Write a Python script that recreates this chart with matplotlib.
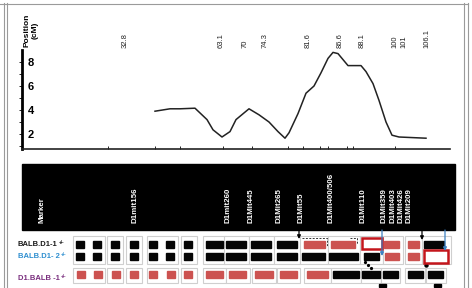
import matplotlib
matplotlib.use("Agg")
import matplotlib.pyplot as plt
from matplotlib.patches import Rectangle
import matplotlib.transforms as mtransforms

plt.rcParams['font.family'] = ['Liberation Sans', 'DejaVu Sans']

# ---------------- data ----------------
# LOD curve (x in track units along the map, y = LOD value)
track_x = [155, 170, 180, 195, 207, 213, 222, 230, 236, 249, 259, 269, 278, 285,
           289, 298, 306, 314, 321, 328, 333, 338, 343, 348, 361, 366, 373, 379,
           386, 392, 399, 426]
lod = [3.9, 4.1, 4.1, 4.15, 3.2, 2.35, 1.75, 2.2, 3.2, 4.1, 3.6, 3.0, 2.2, 1.65,
       2.1, 3.7, 5.4, 6.0, 7.1, 8.3, 8.8, 8.7, 8.2, 7.7, 7.7, 7.2, 6.2, 4.8,
       3.0, 1.9, 1.75, 1.65]
yticks = [2, 4, 6, 8]
cm_labels = ["32.8", "63.1", "70", "74.3", "81.6", "86.6", "88.1", "100", "101", "106.1"]
cm_pos = [125, 221, 245, 265, 308, 340, 362, 395, 404, 427]
axis_ticks = [108, 155, 180, 223, 252, 288, 303, 320, 328, 347, 353, 395]

markers = ["Marker", "D1mit156", "D1mit260", "D1Mit445", "D1Mit265", "D1Mit55",
           "D1Mit400/506", "D1Mit110", "D1Mit359", "D1Mit403", "D1Mit426", "D1Mit209"]
marker_pos = [42, 135, 228, 251, 279, 301, 331, 363, 384, 393, 401, 409]

strains = ["BALB.D1-1", "BALB.D1- 2", "D1.BALB -1"]
strain_sup = ["+/-", "+/-", "+/-"]
strain_colors = ["#1a1a1a", "#2f8fd0", "#7a2f7e"]

# genotype codes: B = BALB (black), D = donor (red), X = open/undetermined (red outline)
geno_row1 = ['B'] * 11 + ['D', 'D', 'X', 'D', 'D', 'B']
geno_row2 = ['B'] * 14 + ['D', 'D', 'X']
geno_row3 = ['D'] * 12 + ['B'] * 5

# ---------------- layout ----------------
W, H = 472, 288
fig = plt.figure(figsize=(W / 100, H / 100), dpi=100)
bg = fig.add_axes([0, 0, 1, 1])
bg.set_xlim(0, W)
bg.set_ylim(H, 0)
bg.axis('off')

# outer frame
for xv in (3.5, 7):
    bg.plot([xv, xv], [3, H], color="#9a9a9a", lw=0.8)
for xv in (464, 468):
    bg.plot([xv, xv], [3, H], color="#9a9a9a", lw=0.8)
bg.plot([0, 468], [3.5, 3.5], color="#9a9a9a", lw=0.8)

# ---- LOD plot ----
ax_l, ax_r, ax_t, ax_b = 22, 450, 50, 149
ax = fig.add_axes([ax_l / W, 1 - ax_b / H, (ax_r - ax_l) / W, (ax_b - ax_t) / H])
ax.patch.set_alpha(0)
ax.plot(track_x, lod, color="#222222", lw=1.1)
ax.set_xlim(ax_l, ax_r)
ax.set_ylim(0.75, 9.0)
for s in ("top", "right"):
    ax.spines[s].set_visible(False)
ax.spines['left'].set_linewidth(2.0)
ax.spines['bottom'].set_linewidth(1.2)
ax.spines['bottom'].set_color("#222222")
ax.set_yticks(yticks)
ax.set_yticklabels([str(v) for v in yticks], fontsize=8, fontweight='bold')
ax.set_yticks([1, 3, 5, 7], minor=True)
ax.tick_params(axis='y', which='both', direction='out', length=2, width=0.6, pad=-6)
for lbl in ax.get_yticklabels():
    lbl.set_horizontalalignment('left')
ax.set_xticks(axis_ticks)
ax.set_xticklabels([])
ax.tick_params(axis='x', direction='in', length=2, width=0.6)

trans = mtransforms.blended_transform_factory(ax.transData, ax.transAxes)
for lab, xp in zip(cm_labels, cm_pos):
    ax.text(xp, 1.02, lab, transform=trans, rotation=90, ha='center', va='bottom',
            fontsize=5.5, color="#222222", clip_on=False)

fig.text(31 / W, 1 - 30 / H, "Position\n(cM)", rotation=90, ha='center', va='center',
         fontsize=6, fontweight='bold', multialignment='center')

# ---- marker header ----
bg.add_patch(Rectangle((22, 164), 433, 66, color="black"))
for lab, xp in zip(markers, marker_pos):
    bg.text(xp, 223, lab, rotation=90, ha='center', va='bottom', color='white',
            fontsize=5.7, fontweight='bold')

# ---- genotype rows ----
cells12 = [(76, 84), (93, 101), (111, 119), (130, 138), (149, 157), (166, 174), (184, 192),
           (206, 223), (226, 246), (251, 271), (277, 297)]
cells_r1 = cells12 + [(304, 325), (331, 355), (362, 382), (384, 399), (408, 419), (424, 444)]
cells_r2 = cells12 + [(302, 325), (329, 358), (364, 379), (385, 399), (408, 419), (424, 448)]
cells_r3 = [(77, 85), (94, 102), (112, 120), (130, 138), (149, 157), (167, 175), (184, 192),
            (206, 223), (229, 246), (255, 273), (280, 297), (307, 328), (333, 359),
            (362, 380), (383, 398), (408, 423), (428, 443)]
row_y = [(241, 247.5), (253, 260), (271, 278)]

# light grey boxes
box_groups12 = [(73, 105), (107, 123), (126, 142), (147, 178), (181, 197), (203, 226),
                (224, 249), (249, 274), (274, 300), (300, 328), (328, 360), (360, 383),
                (383, 403), (405, 422), (422, 451)]
box_groups3 = [(73, 105), (107, 123), (126, 142), (147, 178), (181, 197), (203, 226),
               (226, 250), (252, 276), (277, 300), (304, 331), (331, 361), (361, 381),
               (381, 400), (405, 425), (426, 446)]
for (x0, x1) in box_groups12:
    bg.add_patch(Rectangle((x0, 236), x1 - x0, 28, facecolor='white',
                           edgecolor='#cfcfcf', lw=0.8))
for (x0, x1) in box_groups3:
    bg.add_patch(Rectangle((x0, 268), x1 - x0, 15, facecolor='white',
                           edgecolor='#cfcfcf', lw=0.8))

color_map = {'B': '#050505', 'D': '#cc5250'}


def draw_row(genos, cells, yr, big):
    y0, y1 = yr
    for g, (x0, x1) in zip(genos, cells):
        if g == 'X':
            by0, by1 = big
            bg.add_patch(Rectangle((x0, by0), x1 - x0, by1 - by0, facecolor='white',
                                   edgecolor='#c4161c', lw=1.8, zorder=3))
        else:
            bg.add_patch(Rectangle((x0, y0), x1 - x0, y1 - y0, color=color_map[g], zorder=2))


draw_row(geno_row1, cells_r1, row_y[0], (238, 249))
draw_row(geno_row2, cells_r2, row_y[1], (250, 263))
draw_row(geno_row3, cells_r3, row_y[2], (268, 279))

# row labels with small superscripts
label_y = [245, 257, 279]
for lab, sup, c, yy in zip(strains, strain_sup, strain_colors, label_y):
    t = bg.text(18, yy, lab, color=c, fontsize=5.5, fontweight='bold', ha='left', va='center')
    bg.annotate(sup, xy=(1.0, 0.85), xycoords=t, xytext=(0.5, 0), textcoords='offset points',
                fontsize=3.3, color=c, fontweight='bold', ha='left', va='center')

# dashed outlines
bg.plot([302, 327, 327], [238, 238, 247], color='#333333', lw=0.7, ls=(0, (2, 1.5)))
bg.plot([350, 357, 357], [238, 238, 244], color='#333333', lw=0.7, ls=(0, (2, 1.5)))

# arrows
arrow_specs = [(299, 229, 239, 'black'), (382, 230, 256, '#3c80c2'),
               (422, 230, 240, 'black'), (445, 230, 251, '#3c80c2')]
for xa, ya0, ya1, c in arrow_specs:
    bg.annotate("", xy=(xa, ya1), xytext=(xa, ya0),
                arrowprops=dict(arrowstyle='-|>', color=c, lw=0.9,
                                mutation_scale=5, shrinkA=0, shrinkB=0), zorder=5)

bg.plot([365, 368, 371], [262, 265, 268], ls='none', marker='o', ms=1.3, color='black')
bg.plot([426], [265], ls='none', marker='o', ms=2.2, color='black')
bg.add_patch(Rectangle((379, 284), 7, 3, color='black'))
bg.add_patch(Rectangle((434, 284), 7, 3, color='black'))

fig.savefig("out.png", dpi=100)
